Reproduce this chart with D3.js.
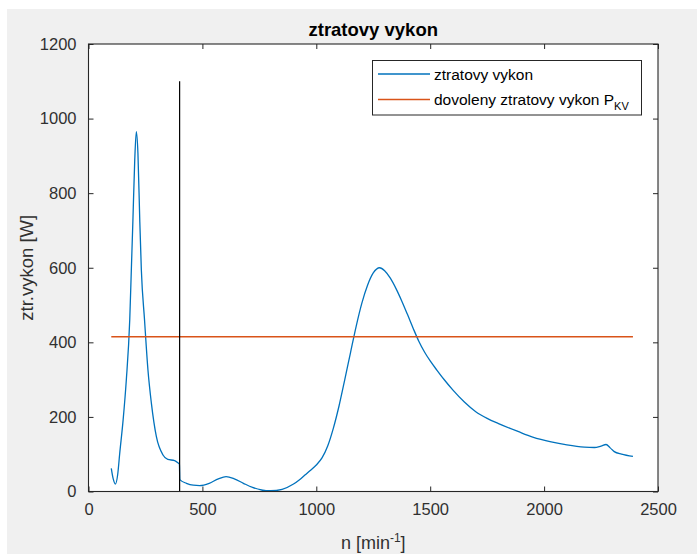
<!DOCTYPE html>
<html>
<head>
<meta charset="utf-8">
<script src="https://cdn.jsdelivr.net/npm/d3@7"></script>
<style>
  html, body { margin: 0; padding: 0; background: #ffffff; }
  svg { display: block; font-family: "Liberation Sans", Arial, Helvetica, sans-serif; }
</style>
</head>
<body>
<svg id="chart" width="697" height="554"></svg>
<script>
// Power loss vs. speed
const speedN = [100, 108, 118, 128, 137, 152, 166, 181, 188, 195, 203, 210, 217, 225, 232, 246, 261, 276, 298, 327, 348, 378, 395, 399, 401, 430, 460, 488, 530, 570, 604, 640, 680, 720, 760, 779, 800, 850, 900, 925, 950, 975, 1000, 1025, 1050, 1075, 1100, 1125, 1150, 1175, 1200, 1225, 1250, 1278, 1300, 1325, 1350, 1375, 1400, 1425, 1450, 1475, 1500, 1530, 1560, 1600, 1650, 1700, 1750, 1800, 1885, 1950, 2031, 2100, 2177, 2221, 2250, 2272, 2290, 2308, 2340, 2390];
const lossW  = [62, 35, 20, 45, 102, 192, 299, 460, 594, 728, 889, 965, 907, 728, 594, 460, 326, 237, 147, 98, 86, 83, 76, 74, 32, 22, 17, 16, 22, 34, 40, 34, 22, 11, 4, 2, 2, 6, 20, 31, 44, 57, 71, 90, 122, 170, 230, 300, 372, 443, 505, 553, 586, 600, 592, 572, 544, 511, 475, 438, 403, 374, 350, 325, 301, 272, 240, 214, 196, 182, 161, 146, 133, 125, 119, 118, 122, 126, 117, 107, 100, 94];

// Allowed power loss P_KV (constant)
const allowedRange = [100, 2390];
const allowedW = 415;

// Marker line at n = 400
const markerN = 400;
const markerTop = 1100;

const xTicks = [0, 500, 1000, 1500, 2000, 2500];
const yTicks = [0, 200, 400, 600, 800, 1000, 1200];

const legendLabels = ["ztratovy vykon", "dovoleny ztratovy vykon P"];

const W = 697, H = 554;
const plot = { left: 88.5, right: 658, top: 44, bottom: 491.5 };
const axisColor = "#262626";
const textColor = "#303030";
const blue = "#0072BD";
const red = "#D95319";

const svg = d3.select("#chart");

// figure background
svg.append("rect").attr("x", 7).attr("y", 9).attr("width", W - 7).attr("height", H - 9).attr("fill", "#f0f0f0");

const x = d3.scaleLinear().domain([0, 2500]).range([plot.left, plot.right]);
const y = d3.scaleLinear().domain([0, 1200]).range([plot.bottom, plot.top]);

// axes background
svg.append("rect")
  .attr("x", plot.left).attr("y", plot.top)
  .attr("width", plot.right - plot.left).attr("height", plot.bottom - plot.top)
  .attr("fill", "#ffffff");

const g = svg.append("g");

// data lines
const pts = speedN.map((n, i) => [n, lossW[i]]);
const line = d3.line().x(d => x(d[0])).y(d => y(d[1])).curve(d3.curveMonotoneX);

g.append("path").datum(pts)
  .attr("d", line)
  .attr("fill", "none").attr("stroke", blue).attr("stroke-width", 1.3);

g.append("path").datum(allowedRange.map(n => [n, allowedW]))
  .attr("d", d3.line().x(d => x(d[0])).y(d => y(d[1])))
  .attr("fill", "none").attr("stroke", red).attr("stroke-width", 1.3);

g.append("path").datum([[markerN, 0], [markerN, markerTop]])
  .attr("d", d3.line().x(d => x(d[0])).y(d => y(d[1])))
  .attr("fill", "none").attr("stroke", "#000000").attr("stroke-width", 1.2);

// axes (box with inward ticks on all sides)
function styleAxis(sel) {
  sel.select(".domain").remove();
  sel.selectAll(".tick line").attr("stroke", axisColor);
  sel.selectAll(".tick text").attr("fill", textColor).style("font-size", "16.5px")
     .style("font-family", "Liberation Sans, Arial, sans-serif");
}

svg.append("g").attr("transform", `translate(0,${plot.bottom})`)
  .call(d3.axisBottom(x).tickValues(xTicks).tickSizeInner(-5).tickSizeOuter(0).tickPadding(12).tickFormat(d3.format("d")))
  .call(styleAxis);
svg.append("g").attr("transform", `translate(0,${plot.top})`)
  .call(d3.axisTop(x).tickValues(xTicks).tickSizeInner(-5).tickSizeOuter(0).tickFormat(""))
  .call(styleAxis);
svg.append("g").attr("transform", `translate(${plot.left},0)`)
  .call(d3.axisLeft(y).tickValues(yTicks).tickSizeInner(-5).tickSizeOuter(0).tickPadding(12).tickFormat(d3.format("d")))
  .call(styleAxis);
svg.append("g").attr("transform", `translate(${plot.right},0)`)
  .call(d3.axisRight(y).tickValues(yTicks).tickSizeInner(-5).tickSizeOuter(0).tickFormat(""))
  .call(styleAxis);

// box outline
svg.append("rect")
  .attr("x", plot.left).attr("y", plot.top)
  .attr("width", plot.right - plot.left).attr("height", plot.bottom - plot.top)
  .attr("fill", "none").attr("stroke", axisColor).attr("stroke-width", 1.1);

// title
svg.append("text")
  .attr("x", (plot.left + plot.right) / 2).attr("y", 36)
  .attr("text-anchor", "middle")
  .attr("fill", "#000000")
  .style("font-size", "18.5px").style("font-weight", "bold")
  .text("ztratovy vykon");

// axis labels
const xl = svg.append("text")
  .attr("x", (plot.left + plot.right) / 2).attr("y", 549)
  .attr("text-anchor", "middle")
  .attr("fill", textColor).style("font-size", "18px");
xl.append("tspan").text("n [min");
xl.append("tspan").attr("dy", -7).style("font-size", "12px").text("-1");
xl.append("tspan").attr("dy", 7).text("]");

svg.append("text")
  .attr("transform", `translate(33,${(plot.top + plot.bottom) / 2}) rotate(-90)`)
  .attr("text-anchor", "middle")
  .attr("fill", textColor).style("font-size", "18.5px")
  .text("ztr.vykon [W]");

// legend
const lg = svg.append("g");
lg.append("rect")
  .attr("x", 372.5).attr("y", 60.5).attr("width", 269).attr("height", 54.5)
  .attr("fill", "#ffffff").attr("stroke", axisColor).attr("stroke-width", 1);

const rows = [
  { color: blue, y: 74, label: legendLabels[0], sub: null },
  { color: red, y: 99.5, label: legendLabels[1], sub: "KV" }
];
rows.forEach(r => {
  lg.append("line")
    .attr("x1", 378).attr("x2", 430).attr("y1", r.y).attr("y2", r.y)
    .attr("stroke", r.color).attr("stroke-width", 1.3);
  const t = lg.append("text")
    .attr("x", 434).attr("y", r.y + 5.5)
    .attr("fill", "#000000").style("font-size", "15.5px");
  t.append("tspan").text(r.label);
  if (r.sub) t.append("tspan").attr("dy", 5).style("font-size", "11px").text(r.sub);
});
</script>
</body>
</html>
